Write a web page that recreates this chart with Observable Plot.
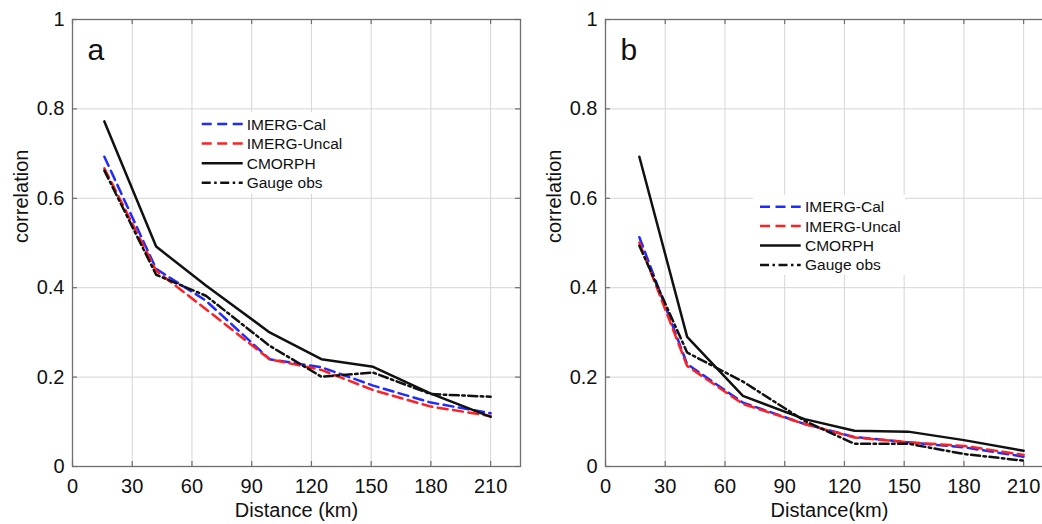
<!DOCTYPE html>
<html><head><meta charset="utf-8">
<script src="https://cdn.jsdelivr.net/npm/d3@7"></script>
<script src="https://cdn.jsdelivr.net/npm/@observablehq/plot@0.6"></script>
<style>
body{margin:0;background:#fff;}
#wrap{position:relative;width:1042px;height:524px;overflow:hidden;background:#fff;}
#wrap svg{position:absolute;top:0;}
</style></head><body><div id="wrap"></div>
<script>
const xTicks = [0, 30, 60, 90, 120, 150, 180, 210];
const yTicks = [0, 0.2, 0.4, 0.6, 0.8, 1];
const seriesNames = ["IMERG-Cal", "IMERG-Uncal", "CMORPH", "Gauge obs"];

const distA   = [16, 42, 67, 99, 125, 151, 180, 210];
const calA    = [0.693, 0.442, 0.371, 0.240, 0.222, 0.181, 0.143, 0.119];
const uncalA  = [0.667, 0.438, 0.352, 0.240, 0.216, 0.171, 0.134, 0.113];
const cmorphA = [0.772, 0.492, 0.405, 0.300, 0.240, 0.223, 0.163, 0.111];
const gaugeA  = [0.662, 0.429, 0.382, 0.270, 0.201, 0.210, 0.162, 0.156];

const distB   = [17, 41, 69, 100, 125, 152, 180, 210];
const calB    = [0.513, 0.229, 0.143, 0.095, 0.066, 0.054, 0.043, 0.022];
const uncalB  = [0.501, 0.225, 0.140, 0.095, 0.065, 0.054, 0.046, 0.026];
const cmorphB = [0.693, 0.290, 0.158, 0.106, 0.080, 0.078, 0.059, 0.035];
const gaugeB  = [0.494, 0.255, 0.190, 0.102, 0.051, 0.051, 0.028, 0.013];

const seriesStyle = {
  "IMERG-Cal":   {stroke: "#1f2bff", dash: "10,5.5"},
  "IMERG-Uncal": {stroke: "#ff2020", dash: "10,5.5"},
  "CMORPH":      {stroke: "#111111", dash: null},
  "Gauge obs":   {stroke: "#111111", dash: "9,3.5,2.5,3.5"}
};

const FONT = "'Liberation Sans', Arial, Helvetica, sans-serif";
const W = 533, H = 524, ML = 72, MR = 13, MT = 19, MB = 58;
const XMAX = 225;

function panel(letter, dist, vals, xLabel, leg) {
  const data = [];
  seriesNames.forEach((name, i) => dist.forEach((d, j) => data.push({series: name, dist: d, r: vals[i][j]})));
  const tlY = 5 / (H - MT - MB), tlX = XMAX * 5 / (W - ML - MR);
  const tickStyle = {stroke: "#6e6e6e", strokeWidth: 1.2};
  const svg = Plot.plot({
    width: W, height: H,
    marginLeft: ML, marginRight: MR, marginTop: MT, marginBottom: MB,
    style: {fontFamily: FONT, fontSize: "20px", background: "white", color: "#111"},
    x: {domain: [0, XMAX]},
    y: {domain: [0, 1]},
    marks: [
      Plot.gridX({ticks: xTicks, stroke: "#d6d6d6", strokeOpacity: 1, strokeWidth: 1}),
      Plot.gridY({ticks: yTicks, stroke: "#d6d6d6", strokeOpacity: 1, strokeWidth: 1}),
      Plot.ruleX(xTicks, {x: d => d, y1: 0, y2: tlY, ...tickStyle}),
      Plot.ruleX(xTicks, {x: d => d, y1: 1 - tlY, y2: 1, ...tickStyle}),
      Plot.ruleY(yTicks, {y: d => d, x1: 0, x2: tlX, ...tickStyle}),
      Plot.ruleY(yTicks, {y: d => d, x1: XMAX - tlX, x2: XMAX, ...tickStyle}),
      Plot.axisX({ticks: xTicks, tickSize: 0, tickPadding: 12, fontSize: 20, label: null}),
      Plot.axisY({ticks: yTicks, tickSize: 0, tickPadding: 8, fontSize: 20, label: null, tickFormat: d => String(d)}),
      ...seriesNames.map(name => Plot.line(data.filter(d => d.series === name), {
        x: "dist", y: "r",
        stroke: seriesStyle[name].stroke,
        strokeWidth: 2.5,
        strokeDasharray: seriesStyle[name].dash
      })),
      Plot.frame({stroke: "#6e6e6e", strokeWidth: 1.3}),
      Plot.text([letter], {text: d => d, frameAnchor: "top-left", dx: 15, dy: 40, lineAnchor: "bottom", textAnchor: "start", fontSize: 30}),
      Plot.text(["correlation"], {text: d => d, frameAnchor: "left", rotate: -90, dx: -51, fontSize: 20}),
      Plot.text([xLabel], {text: d => d, frameAnchor: "bottom", dy: 50, lineAnchor: "bottom", fontSize: 20})
    ]
  });
  const g = d3.select(svg).append("g");
  g.append("rect").attr("x", leg.bx).attr("y", leg.by).attr("width", leg.bw).attr("height", leg.bh).attr("fill", "white");
  seriesNames.forEach((name, i) => {
    const y = leg.y0 + i * leg.dy;
    g.append("line")
      .attr("x1", leg.x1).attr("x2", leg.x2).attr("y1", y).attr("y2", y)
      .attr("stroke", seriesStyle[name].stroke).attr("stroke-width", 2.5)
      .attr("stroke-dasharray", seriesStyle[name].dash);
    g.append("text")
      .attr("x", leg.tx).attr("y", y).attr("dy", "0.36em")
      .attr("text-anchor", "start")
      .attr("font-size", 15.5).attr("font-family", FONT).attr("fill", "#111")
      .text(name);
  });
  return svg;
}

const wrap = document.getElementById("wrap");
const svgA = panel("a", distA, [calA, uncalA, cmorphA, gaugeA], "Distance (km)",
  {bx: 195, by: 112, bw: 155, bh: 82, x1: 201.7, x2: 242.7, tx: 246.7, y0: 124, dy: 19.6});
const svgB = panel("b", distB, [calB, uncalB, cmorphB, gaugeB], "Distance(km)",
  {bx: 220, by: 195, bw: 152, bh: 80, x1: 227, x2: 267.7, tx: 272, y0: 206.7, dy: 19.4});
svgA.style.left = "0px";
svgB.style.left = "533px";
wrap.appendChild(svgA);
wrap.appendChild(svgB);
</script>
</body></html>
